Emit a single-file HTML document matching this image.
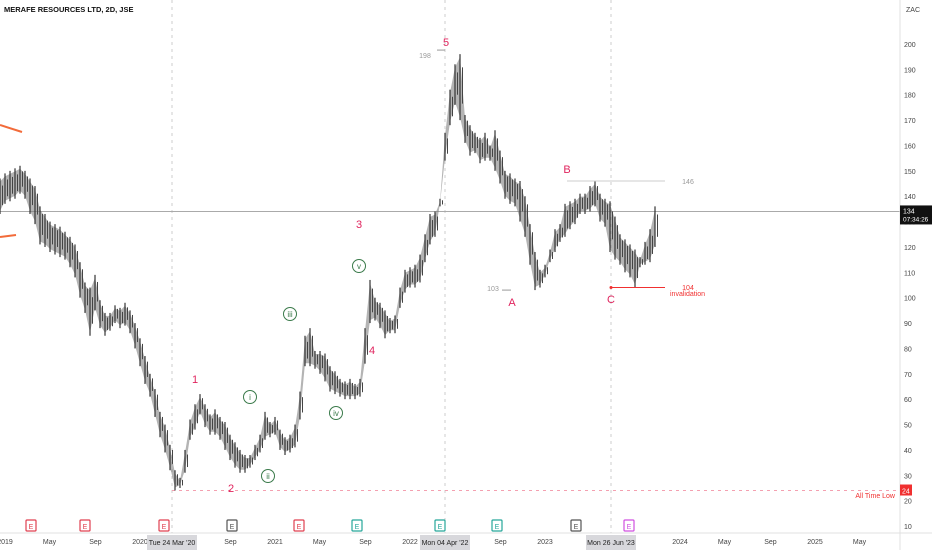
<!DOCTYPE html>
<html><head><meta charset="utf-8"><style>
body{margin:0;background:#fff;width:932px;height:550px;overflow:hidden;font-family:"Liberation Sans",sans-serif}
svg{display:block}
</style></head><body>
<svg id="chart" width="932" height="550" xmlns="http://www.w3.org/2000/svg" font-family="Liberation Sans, sans-serif">
<g id="grid"></g>
<g id="bars"></g>
<g id="ann"></g>
<g id="axes"></g>
</svg>
<script>
const highs=[147,149,150,151,152,150,147,144,136,133,130,129,128,126,124,121,114,106,104,109,99,94,94,97,96,98,95,90,84,77,70,64,55,50,42,32,29,40,52,58,62,58,54,56,53,51,46,43,40,38,38,42,46,55,51,53,48,45,46,50,63,85,88,79,79,78,73,71,68,67,68,66,68,88,107,100,98,95,92,93,104,111,112,113,117,125,133,134,139,165,182,192,196,172,168,165,163,165,160,166,158,150,149,147,146,140,129,118,111,113,119,127,129,137,138,139,141,141,144,146,141,139,138,132,125,123,121,119,116,122,127,136];
const lows =[133,137,138,139,141,139,133,129,121,120,118,117,116,115,112,108,100,94,85,95,88,85,87,90,88,89,86,80,73,66,61,53,45,39,32,24,25,31,44,48,54,49,46,46,44,40,36,33,31,31,33,36,39,44,45,46,40,38,39,41,52,73,73,72,70,67,63,62,61,60,60,60,61,74,90,91,88,84,86,86,96,102,104,104,106,114,121,124,136,154,168,176,170,161,156,157,153,154,154,150,145,139,137,136,130,124,113,103,104,108,114,118,122,124,127,129,133,133,134,136,130,128,118,115,113,110,108,104,112,113,114,120];
const priceTicks=[200,190,180,170,160,150,140,130,120,110,100,90,80,70,60,50,40,30,20,10];
const timeLabels=["2019","May","Sep","2020","Sep","2021","May","Sep","2022","Sep","2023","2024","May","Sep","2025","May"];
const timeValues=[2019.0,2019.33,2019.67,2020.0,2020.67,2021.0,2021.33,2021.67,2022.0,2022.67,2023.0,2024.0,2024.33,2024.67,2025.0,2025.33];
const t0=2018.963, tStep=5/135;

const NS="http://www.w3.org/2000/svg";
const X=t=>140+(t-2020)*135;
const Y=p=>44+(200-p)*2.537;
function el(tag,attrs,parent,txt){const e=document.createElementNS(NS,tag);for(const k in attrs)e.setAttribute(k,attrs[k]);if(txt!==undefined)e.textContent=txt;parent.appendChild(e);return e;}
const grid=document.getElementById('grid'),bars=document.getElementById('bars'),ann=document.getElementById('ann'),axes=document.getElementById('axes');

[[172],[445],[611]].forEach(v=>{const l=el('line',{x1:v[0],x2:v[0],y1:0,y2:533,stroke:'#ccc','stroke-dasharray':'3,4'},grid);

});
let cp=el('line',{x1:0,x2:900,y1:Y(134),y2:Y(134),stroke:'#aaa'},grid);


let atl=el('line',{x1:172,x2:900,y1:Y(24),y2:Y(24),stroke:'#f4a0b0','stroke-dasharray':'3,4'},grid);



// continuous band polygon between highs and lows for dense look
let pts=[];
for(let i=0;i<highs.length;i++)pts.push(X(t0+i*tStep)+','+(Y(highs[i])+3));
for(let i=highs.length-1;i>=0;i--)pts.push(X(t0+i*tStep)+','+(Y(lows[i])-3));
const band=el('polygon',{points:pts.join(' '),fill:'#777',opacity:0.55},bars);


for(let i=0;i<highs.length;i++){
  const x=X(t0+i*tStep);
  const r=el('line',{x1:x,x2:x,y1:Y(highs[i]),y2:Y(lows[i]),stroke:'#333','stroke-width':1.2},bars);
  
  
  const x2=x+2.5,h2=Y(highs[i])+(Y(lows[i])-Y(highs[i]))*0.2,l2=Y(lows[i])-(Y(lows[i])-Y(highs[i]))*0.25;
  const c=el('line',{x1:x2,x2:x2,y1:h2,y2:l2,stroke:'#444','stroke-width':1},bars);
  
  
}
</script>
<script>
function txt(x,y,s,fill,size,name,anchor){const t=el('text',{x:x,y:y,fill:fill,'font-size':size,'text-anchor':anchor||'middle'},ann,s);

return t;}
el('polyline',{points:'0,125 22,132',stroke:'#f26b3a','stroke-width':2,fill:'none'},ann);
el('polyline',{points:'0,237 16,235',stroke:'#f26b3a','stroke-width':2,fill:'none'},ann);
const pink='#e0245e';
txt(446,46,'5',pink,11,'wave-5-label');txt(359,228,'3',pink,11,'wave-3-label');txt(372,354,'4',pink,11,'wave-4-label');
txt(195,383,'1',pink,11,'wave-1-label');txt(231,492,'2',pink,11,'wave-2-label');
txt(512,306,'A',pink,11,'wave-a-label');txt(567,173,'B',pink,11,'wave-b-label');txt(611,303,'C',pink,11,'wave-c-label');
[['v',359,266],['iii',290,314],['i',250,397],['iv',336,413],['ii',268,476]].forEach(c=>{
 const g=el('circle',{cx:c[1],cy:c[2],r:6.5,fill:'none',stroke:'#3a7a4a','stroke-width':1},ann);
 
 
 txt(c[1],c[2]+3,c[0],'#3a7a4a',8,'subwave-'+c[0]+'-label');});
el('line',{x1:437,x2:445,y1:Y(198)+1,y2:Y(198)+1,stroke:'#999'},ann);txt(425,58,'198','#999',7,'high-198-label');
el('line',{x1:567,x2:665,y1:Y(146),y2:Y(146),stroke:'#ccc'},ann);txt(688,184,'146','#999',7,'level-146-label');
el('line',{x1:502,x2:511,y1:Y(103),y2:Y(103),stroke:'#999'},ann);txt(493,291,'103','#999',7,'low-103-label');
el('line',{x1:611,x2:665,y1:Y(104),y2:Y(104),stroke:'#f03030'},ann);el('circle',{cx:611,cy:Y(104),r:1.5,fill:'#f03030'},ann);
txt(688,290,'104','#f03030',7,'invalidation-level-label');txt(670,296,'invalidation','#f03030',7,'invalidation-label','start');
txt(895,498,'All Time Low','#f03030',7,'all-time-low-label','end');
txt(4,12,'MERAFE RESOURCES LTD, 2D, JSE','#111',7.5,'chart-title','start').setAttribute('font-weight','bold');
[[31,'#e04050'],[85,'#e04050'],[164,'#e04050'],[232,'#555'],[299,'#e04050'],[357,'#26a69a'],[440,'#26a69a'],[497,'#26a69a'],[576,'#555'],[629,'#d050e0']].forEach(m=>{
 const r=el('rect',{x:m[0]-5,y:520,width:10,height:11,fill:'#fff',stroke:m[1],'stroke-width':1.2,rx:1},ann);
 
 
 txt(m[0],529,'E',m[1],7,'earnings-marker-letter');});

el('line',{x1:900,x2:900,y1:0,y2:550,stroke:'#e0e0e0'},axes);
el('line',{x1:0,x2:932,y1:533,y2:533,stroke:'#e0e0e0'},axes);
function at(x,y,s,fill,size,name,anchor){const t=el('text',{x:x,y:y,fill:fill,'font-size':size,'text-anchor':anchor||'start'},axes,s);

return t;}
priceTicks.forEach(p=>at(904,Y(p)+3,String(p),'#444',7,'price-tick-label'));
at(906,12,'ZAC','#444',7,'currency-label');
timeValues.forEach((t,i)=>at(X(t),544,timeLabels[i],'#444',7,'time-tick-label','middle'));
[[172,"Tue 24 Mar '20"],[445,"Mon 04 Apr '22"],[611,"Mon 26 Jun '23"]].forEach(d=>{
 const r=el('rect',{x:d[0]-25,y:535,width:50,height:15,fill:'#d8d8dc'},axes);
 
 
 at(d[0],545,d[1],'#222',7,'crosshair-date-label','middle');});
const pb=el('rect',{x:900,y:Y(134)-6,width:32,height:19,fill:'#111'},axes);


at(903,Y(134)+2,'134','#fff',7,'current-price-label');at(903,Y(134)+10,'07:34:26','#fff',6.5,'countdown-label');
const lb=el('rect',{x:900,y:Y(24)-6,width:12,height:11,fill:'#f03030'},axes);


at(902,Y(24)+3,'24','#fff',7,'all-time-low-price');
</script>
</body></html>
